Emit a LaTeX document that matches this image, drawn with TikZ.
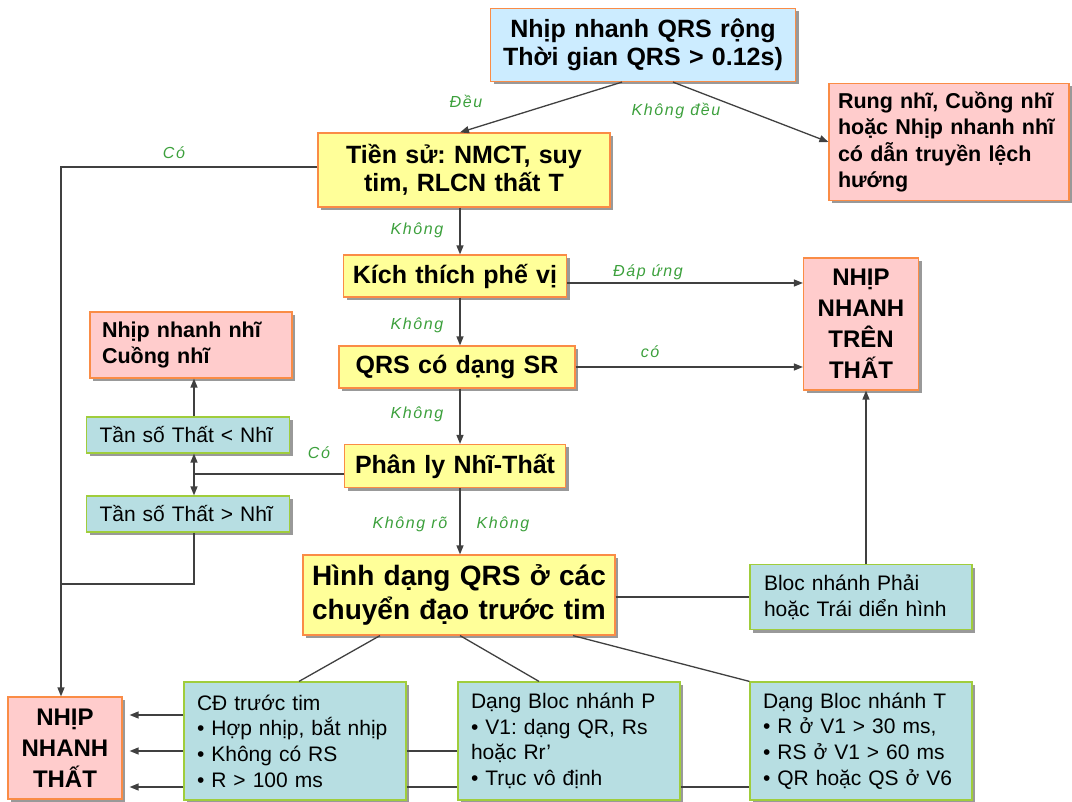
\documentclass[tikz,border=0pt]{standalone}
\usepackage{fontspec}
\setmainfont{Liberation Sans}
\newfontfamily\lblfont[LetterSpace=10]{Liberation Sans Italic}
\usetikzlibrary{arrows.meta,shadows,calc}
\frenchspacing

\definecolor{edgeorange}{RGB}{250,140,70}
\definecolor{edgegreen}{RGB}{160,205,60}
\definecolor{fillyellow}{RGB}{255,255,153}
\definecolor{fillpink}{RGB}{255,204,204}
\definecolor{fillblue}{RGB}{204,236,255}
\definecolor{fillteal}{RGB}{183,222,226}
\definecolor{lblgreen}{RGB}{60,160,60}
\definecolor{linegray}{RGB}{64,64,64}

\begin{document}
\begin{tikzpicture}[x=1pt,y=-1pt,
    shadowed/.style={drop shadow={shadow xshift=3pt,shadow yshift=-3pt,fill=black!40,opacity=1}},
    box/.style={shadowed,draw=edgeorange,line width=1.2pt,inner sep=0pt},
    yellowbox/.style={box,fill=fillyellow,align=center,font=\bfseries\fontsize{25}{28}\selectfont},
    pinkbox/.style={box,fill=fillpink,align=left,font=\bfseries\fontsize{21.5}{26.5}\selectfont},
    bigbox/.style={box,fill=fillpink,align=center,font=\bfseries\fontsize{24}{31}\selectfont},
    tealbox/.style={shadowed,draw=edgegreen,line width=1.2pt,fill=fillteal,inner sep=0pt,
                    align=left,font=\fontsize{21}{25.7}\selectfont},
    lbl/.style={text=lblgreen,font=\lblfont\fontsize{16}{18}\selectfont},
    conn/.style={draw=linegray,line width=1.3pt},
    arr/.style={conn,-{Triangle[length=9pt,width=7pt]}}]
\useasboundingbox (0,0) rectangle (1072,802);

% main column
\node[box,fill=fillblue,align=center,font=\bfseries\fontsize{25}{28}\selectfont,
      minimum width=305,minimum height=73,text width=290] (top) at (643,45)
  {Nhịp nhanh QRS rộng\\Thời gian QRS > 0.12s)};
\node[yellowbox,minimum width=292,minimum height=74,text width=280] (tiensu) at (464,170)
  {Tiền sử: NMCT, suy\\tim, RLCN thất T};
\node[yellowbox,minimum width=223,minimum height=42,text width=215] (kich) at (455,276)
  {Kích thích phế vị};
\node[yellowbox,minimum width=236,minimum height=42,text width=225] (qrs) at (457,367)
  {QRS có dạng SR};
\node[yellowbox,minimum width=221,minimum height=43,text width=215] (phanly) at (455,466)
  {Phân ly Nhĩ-Thất};
\node[yellowbox,font=\bfseries\fontsize{28}{34}\selectfont,
      minimum width=312,minimum height=80,text width=300] (hinh) at (459,595)
  {Hình dạng QRS ở các\\chuyển đạo trước tim};
\coordinate (spine) at (460,0);

% right side
\node[pinkbox,minimum width=240,minimum height=117,text width=222] (rung) at (949,142)
  {Rung nhĩ, Cuồng nhĩ\\hoặc Nhịp nhanh nhĩ\\có dẫn truyền lệch\\hướng};
\node[bigbox,minimum width=115,minimum height=132,text width=110] (nntt) at (861,324)
  {NHỊP\\NHANH\\TRÊN\\THẤT};
\node[tealbox,minimum width=222,minimum height=65,text width=194] (bloc) at (861,597)
  {Bloc nhánh Phải\\hoặc Trái diển hình};

% left side
\node[pinkbox,minimum width=202,minimum height=66,text width=178] (nhi) at (191,345)
  {Nhịp nhanh nhĩ\\Cuồng nhĩ};
\node[tealbox,minimum width=203,minimum height=36,text width=177] (tsnho) at (188,435)
  {Tần số Thất < Nhĩ};
\node[tealbox,minimum width=203,minimum height=36,text width=177] (tslon) at (188,514)
  {Tần số Thất > Nhĩ};
\node[bigbox,minimum width=114,minimum height=102,text width=110] (nnt) at (65,748)
  {NHỊP\\NHANH\\THẤT};
\coordinate (fork) at (194,474);
\coordinate (join) at (61,584);

% bottom row
\node[tealbox,minimum width=222,minimum height=118,text width=196] (cd) at (295,741)
  {CĐ trước tim\\• Hợp nhịp, bắt nhịp\\• Không có RS\\• R > 100 ms};
\node[tealbox,minimum width=222,minimum height=118,text width=196] (blocp) at (569,741)
  {Dạng Bloc nhánh P\\• V1: dạng QR, Rs\\hoặc Rr’\\• Trục vô định};
\node[tealbox,minimum width=222,minimum height=118,text width=196] (bloct) at (861,741)
  {Dạng Bloc nhánh T\\• R ở V1 > 30 ms,\\• RS ở V1 > 60 ms\\• QR hoặc QS ở V6};

% connectors
\draw[arr] ([xshift=-21pt]top.south) -- ([xshift=-4pt]tiensu.north);
\draw[arr] ([xshift=30pt]top.south) -- (rung.west);
\draw[arr] ([yshift=3pt]tiensu.west) -| (nnt.north -| join);
\draw[arr] (tiensu.south -| spine) -- (kich.north -| spine);
\draw[arr] (kich.south -| spine) -- (qrs.north -| spine);
\draw[arr] (qrs.south -| spine) -- (phanly.north -| spine);
\draw[arr] (phanly.south -| spine) -- (hinh.north -| spine);
\draw[arr] ([yshift=-7pt]kich.east) -- ([yshift=-7pt]kich.east -| nntt.west);
\draw[arr] (qrs.east) -- (qrs.east -| nntt.west);
\draw[conn] (phanly.west |- fork) -- (fork);
\draw[arr] (fork) -- (tsnho.south -| fork);
\draw[arr] (fork) -- (tslon.north -| fork);
\draw[arr] (tsnho.north -| fork) -- (nhi.south -| fork);
\draw[conn] (tslon.south -| fork) |- (join);
\draw[conn] (bloc.west -| hinh.east) -- (bloc.west);
\draw[arr] ([xshift=5pt]bloc.north) -- ([xshift=5pt]bloc.north |- nntt.south);
\draw[conn] ([xshift=-79pt]hinh.south) -- ([xshift=4pt]cd.north);
\draw[conn] ([xshift=1pt]hinh.south) -- ([xshift=-30pt]blocp.north);
\draw[conn] ([xshift=114pt]hinh.south) -- (bloct.north west);
\foreach \dy in {-26,10,46}
  \draw[arr] ($(cd.west)+(0,\dy)$) -- ($(nnt.east |- cd.west)+(7,\dy)$);
\foreach \dy in {10,46}
  \draw[conn] ($(cd.east)+(0,\dy)$) -- ($(blocp.west)+(0,\dy)$);
\draw[conn] ($(blocp.east)+(0,46)$) -- ($(bloct.west)+(0,46)$);

% branch labels
\node[lbl] (lDeu) at (466,101) {Đều};
\node[lbl] (lKdeu) at (676,111) {Không đều};
\node[lbl] (lCo1) at (174,153) {Có};
\node[lbl] (lK1) at (417,230) {Không};
\node[lbl] (lDap) at (648,272) {Đáp ứng};
\node[lbl] (lK2) at (417,325) {Không};
\node[lbl] (lco2) at (650,352) {có};
\node[lbl] (lK3) at (417,414) {Không};
\node[lbl] (lCo3) at (319,453) {Có};
\node[lbl] (lKro) at (410,524) {Không rõ};
\node[lbl] (lK4) at (503,524) {Không};
\end{tikzpicture}
\end{document}
